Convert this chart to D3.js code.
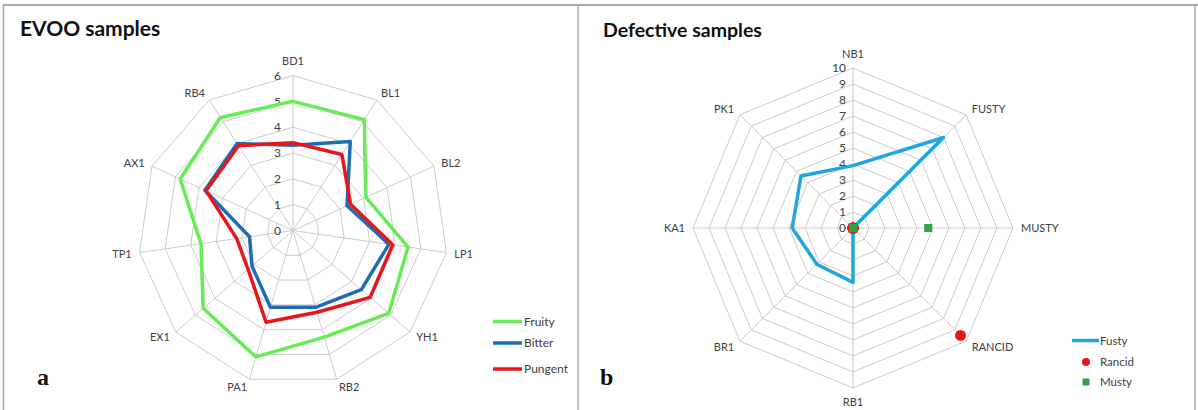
<!DOCTYPE html>
<html>
<head>
<meta charset="utf-8">
<script src="https://cdn.jsdelivr.net/npm/d3@7/dist/d3.min.js"></script>
<style>
  html, body { margin: 0; padding: 0; background: #fff; }
  svg { display: block; }
  text { font-family: Lato, "Open Sans", sans-serif; }
</style>
</head>
<body>
<svg id="chart" width="1198" height="410"></svg>
<script>
// EVOO panel
const evooCategories = ["BD1", "BL1", "BL2", "LP1", "YH1", "RB2", "PA1", "EX1", "TP1", "AX1", "RB4"];
const fruity  = [5.0, 5.1, 3.1, 4.5, 4.9, 4.3, 5.1, 4.6, 3.6, 4.8, 5.2];
const bitter  = [3.3, 4.1, 2.3, 3.75, 3.5, 3.1, 3.1, 2.1, 1.7, 3.75, 4.0];
const pungent = [3.4, 3.5, 2.45, 3.9, 3.95, 3.3, 3.7, 2.3, 2.2, 3.7, 3.9];
const evooTicks = [0, 1, 2, 3, 4, 5, 6];

// Defective panel
const defCategories = ["NB1", "FUSTY", "MUSTY", "RANCID", "RB1", "BR1", "KA1", "PK1"];
const fustyVals  = [3.9, 8.0, 0, 0, 3.4, 3.2, 3.8, 4.6];
const rancidVals = [0, 0, 0, 9.5, 0, 0, 0, 0];
const mustyVals  = [0, 0, 4.7, 0, 0, 0, 0, 0];
const defTicks = [0, 1, 2, 3, 4, 5, 6, 7, 8, 9, 10];

const svg = d3.select("#chart");

// panel frames
const frame = svg.append("g").attr("fill", "none").attr("stroke", "#a8a8a8");
frame.append("line").attr("x1", 3).attr("x2", 1198).attr("y1", 5).attr("y2", 5).attr("stroke-width", 2);
frame.append("line").attr("x1", 3.5).attr("x2", 3.5).attr("y1", 5).attr("y2", 410).attr("stroke-width", 1.5);
frame.append("line").attr("x1", 578).attr("x2", 578).attr("y1", 5).attr("y2", 410).attr("stroke-width", 1.5);
frame.append("line").attr("x1", 1195).attr("x2", 1195).attr("y1", 5).attr("y2", 410).attr("stroke-width", 1.5);

function radar(opts) {
  const { cx, cy, R, cats, ticks, maxV } = opts;
  const n = cats.length;
  const g = svg.append("g").attr("transform", `translate(${cx},${cy})`);
  const r = d3.scaleLinear().domain([0, maxV]).range([0, R]);
  const ang = d3.scaleLinear().domain([0, n]).range([0, 2 * Math.PI]);
  const idx = d3.range(n);

  const ring = d3.lineRadial()
    .angle((d, i) => ang(i))
    .radius(d => r(d))
    .curve(d3.curveLinearClosed);

  // grid rings
  g.append("g").selectAll("path").data(ticks.filter(t => t > 0)).join("path")
    .attr("d", t => ring(idx.map(() => t)))
    .attr("fill", "none").attr("stroke", "#cbcbcb").attr("stroke-width", 1);

  // spokes
  g.append("g").selectAll("line").data(idx).join("line")
    .attr("x1", 0).attr("y1", 0)
    .attr("x2", i => r(maxV) * Math.sin(ang(i)))
    .attr("y2", i => -r(maxV) * Math.cos(ang(i)))
    .attr("stroke", "#cbcbcb").attr("stroke-width", 1);

  // tick labels along the first spoke
  g.append("g").selectAll("text").data(ticks).join("text")
    .attr("x", opts.tickDx).attr("y", t => -r(t))
    .attr("dy", "0.35em")
    .attr("text-anchor", "end")
    .attr("font-size", 12).attr("fill", "#404040")
    .text(t => t);

  // category labels
  const pad = 8;
  g.append("g").selectAll("text").data(cats).join("text")
    .attr("font-size", 11).attr("fill", "#404040")
    .attr("text-anchor", "middle").attr("dy", "0.35em")
    .text(d => d)
    .each(function (d, i) {
      const a = ang(i), s = Math.sin(a), c = Math.cos(a);
      const hw = this.getComputedTextLength() / 2;
      let x = (r(maxV) + pad) * s;
      let y = -(r(maxV) + pad) * c;
      if (Math.abs(s) > 0.1) x += hw * Math.sign(s);
      else y += -6 * Math.sign(c);
      d3.select(this).attr("x", x).attr("y", y);
    });

  return { g, r, ang, ring, idx };
}

// ---- EVOO samples ----
const A = radar({ cx: 293, cy: 230.5, R: 155, cats: evooCategories, ticks: evooTicks, maxV: 6, tickDx: -12 });
const evooSeries = [
  { name: "Fruity", values: fruity, color: "#66ec55" },
  { name: "Bitter", values: bitter, color: "#1d6db5" },
  { name: "Pungent", values: pungent, color: "#e8161b" }
];
A.g.append("g").selectAll("path").data(evooSeries).join("path")
  .attr("d", s => A.ring(s.values))
  .attr("fill", "none").attr("stroke", s => s.color)
  .attr("stroke-width", 3.5).attr("stroke-linejoin", "round");

svg.append("text").attr("x", 20).attr("y", 36)
  .attr("font-size", 21).attr("font-weight", 700).attr("fill", "#111")
  .text("EVOO samples");

const legA = svg.append("g").attr("transform", "translate(493,321.5)");
evooSeries.forEach((s, i) => {
  const y = [0, 21.5, 47.5][i];
  legA.append("line").attr("x1", 0).attr("x2", 29).attr("y1", y).attr("y2", y)
    .attr("stroke", s.color).attr("stroke-width", 3.5);
  legA.append("text").attr("x", 31).attr("y", y).attr("dy", "0.35em")
    .attr("font-size", 12).attr("fill", "#404040").text(s.name);
});

svg.append("text").attr("x", 37).attr("y", 385)
  .attr("font-size", 24).attr("font-weight", 700).attr("fill", "#111")
  .style("font-family", "'Liberation Serif', serif")
  .text("a");

// ---- Defective samples ----
const B = radar({ cx: 853, cy: 228, R: 160, cats: defCategories, ticks: defTicks, maxV: 10, tickDx: -7 });

B.g.append("path")
  .attr("d", B.ring(fustyVals))
  .attr("fill", "none").attr("stroke", "#1fa6df")
  .attr("stroke-width", 3.5).attr("stroke-linejoin", "round");

const pt = (v, i) => [B.r(v) * Math.sin(B.ang(i)), -B.r(v) * Math.cos(B.ang(i))];

B.g.append("g").selectAll("circle").data(rancidVals).join("circle")
  .attr("cx", (v, i) => pt(v, i)[0]).attr("cy", (v, i) => pt(v, i)[1])
  .attr("r", 5.5).attr("fill", "#e4191b");

B.g.append("g").selectAll("rect").data(mustyVals).join("rect")
  .attr("x", (v, i) => pt(v, i)[0] - 4).attr("y", (v, i) => pt(v, i)[1] - 4)
  .attr("width", 8).attr("height", 8).attr("fill", "#2aa645");

svg.append("text").attr("x", 603).attr("y", 37)
  .attr("font-size", 19.5).attr("font-weight", 700).attr("fill", "#111")
  .text("Defective samples");

const legB = svg.append("g").attr("transform", "translate(1072,340.5)");
legB.append("line").attr("x1", 0).attr("x2", 27).attr("y1", 0).attr("y2", 0)
  .attr("stroke", "#1fa6df").attr("stroke-width", 3.5);
legB.append("text").attr("x", 28).attr("y", 0).attr("dy", "0.35em")
  .attr("font-size", 11.5).attr("fill", "#404040").text("Fusty");
legB.append("circle").attr("cx", 14).attr("cy", 21.5).attr("r", 4).attr("fill", "#e4191b");
legB.append("text").attr("x", 28).attr("y", 21.5).attr("dy", "0.35em")
  .attr("font-size", 11.5).attr("fill", "#404040").text("Rancid");
legB.append("rect").attr("x", 10.5).attr("y", 38).attr("width", 7).attr("height", 7).attr("fill", "#2aa645");
legB.append("text").attr("x", 28).attr("y", 41.5).attr("dy", "0.35em")
  .attr("font-size", 11.5).attr("fill", "#404040").text("Musty");

svg.append("text").attr("x", 600).attr("y", 385)
  .attr("font-size", 24).attr("font-weight", 700).attr("fill", "#111")
  .style("font-family", "'Liberation Serif', serif")
  .text("b");
</script>
</body>
</html>
